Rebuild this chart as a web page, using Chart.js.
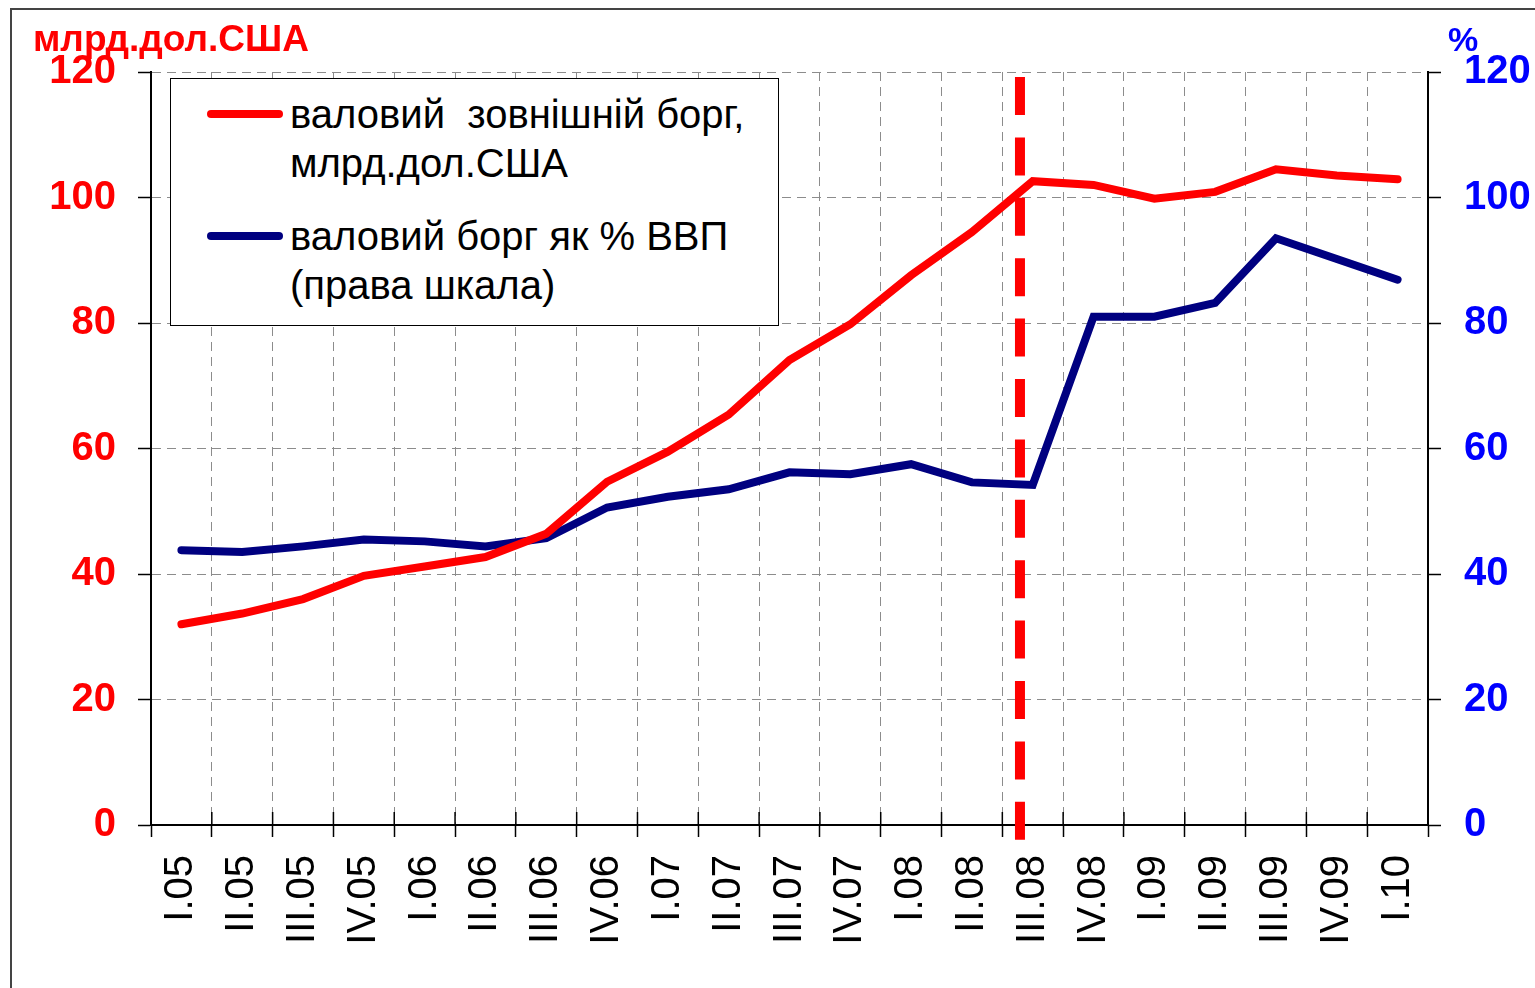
<!DOCTYPE html>
<html>
<head>
<meta charset="utf-8">
<script src="https://cdn.jsdelivr.net/npm/chart.js@4.4.1/dist/chart.umd.min.js"></script>
<style>
  html, body { margin: 0; padding: 0; background: #fff; overflow: hidden; }
  body { width: 1535px; height: 988px; position: relative; font-family: "Liberation Sans", Arial, sans-serif; }
  #frame { position: absolute; left: 10px; top: 8px; width: 1560px; height: 1020px; border: 2px solid #444; box-sizing: border-box; }
  #wrap { position: absolute; left: 0; top: 0; width: 1535px; height: 988px; }
  .unit { position: absolute; font-weight: bold; white-space: nowrap; line-height: 1; }
  #legend { position: absolute; left: 170px; top: 78px; width: 609px; height: 248px; box-sizing: border-box;
            border: 1px solid #000; background: #fff; }
  .lg-line { position: absolute; left: 36px; width: 76px; height: 8px; border-radius: 4px; }
  .lg-text { position: absolute; left: 119px; font-size: 40px; line-height: 49px; white-space: pre; color: #000; }
</style>
</head>
<body>
<div id="frame"></div>
<div id="wrap"><canvas id="chart" width="1535" height="988"></canvas></div>
<div class="unit" style="left:33px; top:20px; font-size:37px; color:#ff0000;">млрд.дол.США</div>
<div class="unit" style="left:1448px; top:22px; font-size:34px; color:#0000ff;">%</div>
<div id="legend"></div>

<script>
// Квартали
const quarters = ['I.05', 'II.05', 'III.05', 'IV.05', 'I.06', 'II.06', 'III.06', 'IV.06',
                  'I.07', 'II.07', 'III.07', 'IV.07', 'I.08', 'II.08', 'III.08', 'IV.08',
                  'I.09', 'II.09', 'III.09', 'IV.09', 'I.10'];

// валовий зовнішній борг, млрд.дол.США (ліва шкала)
const grossDebt = [32.0, 33.7, 36.0, 39.7, 41.2, 42.7, 46.4, 54.7, 59.5, 65.4, 74.1,
                   79.8, 87.6, 94.5, 102.6, 102.0, 99.8, 100.9, 104.5, 103.5, 102.9];

// валовий борг як % ВВП (права шкала)
const debtToGdp = [43.8, 43.5, 44.4, 45.5, 45.2, 44.4, 45.7, 50.6, 52.3, 53.5, 56.2,
                   55.9, 57.5, 54.6, 54.2, 81.0, 81.0, 83.2, 93.5, 90.2, 86.9];

const seriesNames = ['валовий  зовнішній борг,\nмлрд.дол.США', 'валовий борг як % ВВП\n(права шкала)'];
const seriesColors = ['#ff0000', '#000080'];

// Шкали
const axisMin = 0;
const axisMax = 120;
const axisStep = 20;

// Позиція вертикальної пунктирної лінії (індекс категорії, між II.08 і III.08)
const markerPos = 13.79;

Chart.defaults.font.family = '"Liberation Sans", Arial, sans-serif';

// Вертикальна червона пунктирна лінія
const markerLine = {
    id: 'markerLine',
    afterDatasetsDraw(chart) {
        const { ctx, chartArea, scales } = chart;
        const x = scales.x.getPixelForValue(markerPos);
        ctx.save();
        ctx.strokeStyle = '#ff0000';
        ctx.lineWidth = 10;
        ctx.setLineDash([38, 22.4]);
        ctx.beginPath();
        ctx.moveTo(x, chartArea.top + 5);
        ctx.lineTo(x, chartArea.bottom + 16);
        ctx.stroke();
        ctx.restore();
    }
};

// Поділки осі X, що заходять усередину графіка (як в Excel)
const innerTicks = {
    id: 'innerTicks',
    beforeDatasetsDraw(chart) {
        const { ctx, chartArea, scales } = chart;
        ctx.save();
        ctx.strokeStyle = '#000';
        ctx.lineWidth = 1.5;
        ctx.beginPath();
        for (let i = 0; i <= quarters.length; i++) {
            const x = scales.x.getPixelForValue(i - 0.5);
            ctx.moveTo(x, chartArea.bottom - 13);
            ctx.lineTo(x, chartArea.bottom);
        }
        ctx.stroke();
        ctx.restore();
    }
};

const gridColor = '#8c8c8c';

new Chart(document.getElementById('chart'), {
    type: 'line',
    data: {
        labels: quarters,
        datasets: [{
            label: seriesNames[0],
            data: grossDebt,
            borderColor: seriesColors[0],
            borderWidth: 8,
            borderCapStyle: 'round',
            pointRadius: 0,
            tension: 0,
            yAxisID: 'y'
        }, {
            label: seriesNames[1],
            data: debtToGdp,
            borderColor: seriesColors[1],
            borderWidth: 8,
            borderCapStyle: 'round',
            pointRadius: 0,
            tension: 0,
            yAxisID: 'y1'
        }]
    },
    options: {
        responsive: false,
        animation: false,
        layout: { padding: { left: 49, right: 4, top: 72, bottom: 38 } },
        plugins: {
            legend: { display: false },
            tooltip: { enabled: false }
        },
        scales: {
            x: {
                offset: true,
                afterFit: s => { s.height = 125; },
                grid: { offset: true, color: gridColor, lineWidth: 1, tickLength: 12, tickColor: '#000', tickWidth: 1.5 },
                border: { display: true, color: '#000', width: 2, dash: [9, 6] },
                ticks: {
                    color: '#000',
                    font: { size: 40 },
                    maxRotation: 90,
                    minRotation: 90,
                    autoSkip: false,
                    padding: 18
                }
            },
            y: {
                position: 'left',
                min: axisMin,
                max: axisMax,
                afterFit: s => { s.width = 102; },
                grid: { color: gridColor, lineWidth: 1, tickLength: 13, tickColor: '#000', tickWidth: 1.5 },
                border: { display: true, color: '#000', width: 2, dash: [9, 6] },
                ticks: {
                    stepSize: axisStep,
                    color: '#ff0000',
                    font: { size: 40, weight: 'bold' },
                    padding: 22
                }
            },
            y1: {
                position: 'right',
                min: axisMin,
                max: axisMax,
                afterFit: s => { s.width = 103; },
                grid: { drawOnChartArea: false, tickLength: 13, tickColor: '#000', tickWidth: 1.5 },
                border: { display: true, color: '#000', width: 2 },
                ticks: {
                    stepSize: axisStep,
                    color: '#0000ff',
                    font: { size: 40, weight: 'bold' },
                    padding: 23
                }
            }
        }
    },
    plugins: [innerTicks, markerLine]
});

// Легенда з багаторядковими підписами
const legend = document.getElementById('legend');
seriesNames.forEach((name, i) => {
    const top = 11 + i * 122;
    const line = document.createElement('div');
    line.className = 'lg-line';
    line.style.background = seriesColors[i];
    line.style.top = (top + 20) + 'px';
    legend.appendChild(line);
    const text = document.createElement('div');
    text.className = 'lg-text';
    text.style.top = top + 'px';
    text.textContent = name;
    legend.appendChild(text);
});
</script>
</body>
</html>
